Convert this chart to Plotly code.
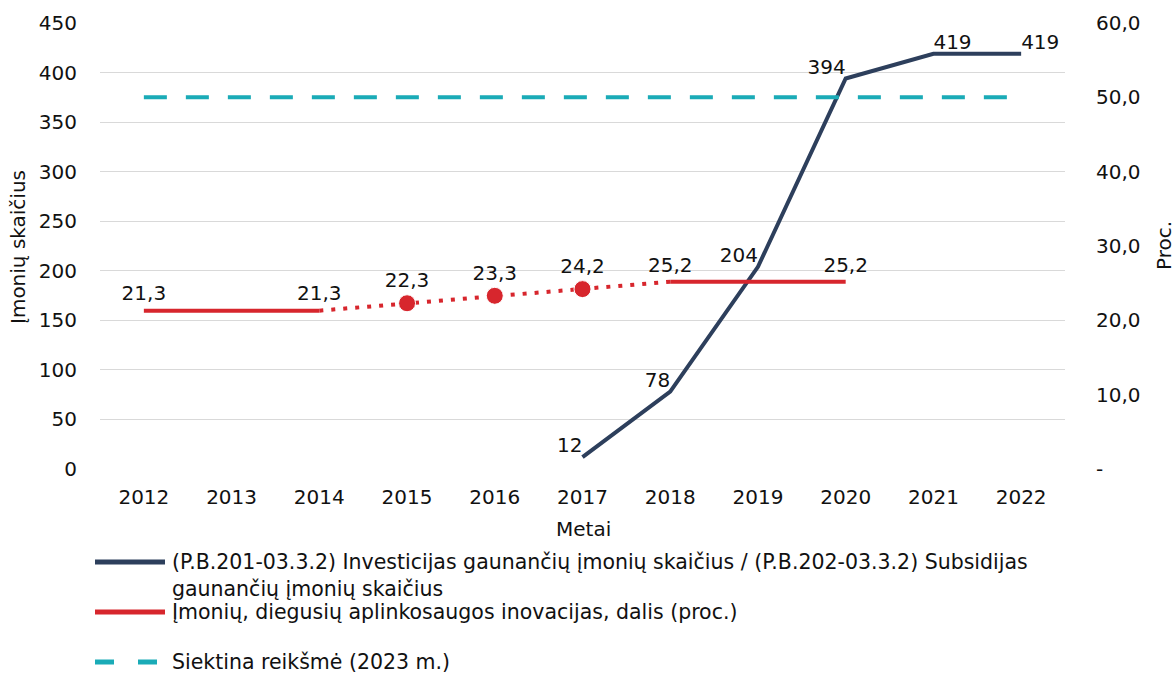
import plotly.graph_objects as go

# duomenys
metai = ["2012", "2013", "2014", "2015", "2016", "2017", "2018", "2019", "2020", "2021", "2022"]
imones = [None, None, None, None, None, 12, 78, 204, 394, 419, 419]
dalis_faktas_1 = [21.3, 21.3, 21.3, None, None, None, None, None, None, None, None]
dalis_tarp = [None, None, 21.3, 22.3, 23.3, 24.2, 25.2, None, None, None, None]
dalis_faktas_2 = [None, None, None, None, None, None, 25.2, 25.2, 25.2, None, None]
dalis_visos = [21.3, 21.3, 21.3, 22.3, 23.3, 24.2, 25.2, 25.2, 25.2, None, None]
dalis_rodyti = [True, False, True, True, True, True, True, False, True, False, False]
siektina = [50.0] * 11

imones_pozicijos = ["top left"] * 9 + ["top right", "top right"]

legendos_tekstai = [
    "(P.B.201-03.3.2) Investicijas gaunančių įmonių skaičius / (P.B.202-03.3.2) Subsidijas<br>gaunančių įmonių skaičius",
    "Įmonių, diegusių aplinkosaugos inovacijas, dalis (proc.)",
    "Siektina reikšmė (2023 m.)",
]

navy = "#2D3F5C"
raudona = "#D7262D"
zalsva = "#1AABB7"
FONT = "DejaVu Sans"

right_ticks = [0, 10, 20, 30, 40, 50, 60]
right_text = ["-" if v == 0 else f"{v:.1f}".replace(".", ",") for v in right_ticks]

L, R, T, B = 100, 1065, 23, 469   # braižymo sritis ekrane


def px(xp):
    return (xp - L) / (R - L)


def py(yp):
    return (B - yp) / (B - T)


fig = go.Figure()

fig.add_trace(go.Scatter(
    x=metai, y=imones, mode="lines+text", connectgaps=False,
    line=dict(color=navy, width=4),
    text=[("" if v is None else str(v)) for v in imones],
    textposition=imones_pozicijos,
    textfont=dict(size=20, color="#111111"),
    showlegend=False,
))

fig.add_trace(go.Scatter(
    x=metai, y=dalis_tarp, mode="lines+markers", yaxis="y2",
    line=dict(color=raudona, width=4, dash="4px,8px"),
    marker=dict(size=[0, 0, 0, 17, 17, 17, 0, 0, 0, 0, 0], color=raudona, opacity=1),
    showlegend=False, hoverinfo="skip",
))

for seg in (dalis_faktas_1, dalis_faktas_2):
    fig.add_trace(go.Scatter(
        x=metai, y=seg, mode="lines", yaxis="y2",
        line=dict(color=raudona, width=4), showlegend=False,
    ))

# etiketės raudonai linijai
fig.add_trace(go.Scatter(
    x=metai, y=dalis_visos, mode="markers+text", yaxis="y2",
    text=[f"{v:.1f}".replace(".", ",") if (v is not None and s) else "" for v, s in zip(dalis_visos, dalis_rodyti)],
    textposition="top center",
    marker=dict(size=[7, 7, 7, 16, 16, 16, 6, 6, 6, 6, 6], opacity=0),
    textfont=dict(size=20, color="#111111"), showlegend=False, hoverinfo="skip",
))

fig.add_trace(go.Scatter(
    x=metai, y=siektina, mode="lines", yaxis="y2",
    line=dict(color=zalsva, width=4, dash="23px,19px"),
    showlegend=False,
))

# legenda (rankinė, kad linijų pavyzdžiai būtų ilgi)
shapes = []
annotations = []
leg_y = [562, 612, 662]
leg_col = [navy, raudona, zalsva]
leg_dash = ["solid", "solid", "19px,24px"]
for txt, yy, col, dsh in zip(legendos_tekstai, leg_y, leg_col, leg_dash):
    shapes.append(dict(type="line", xref="paper", yref="paper",
                       x0=px(95), x1=px(165), y0=py(yy), y1=py(yy),
                       line=dict(color=col, width=5, dash=dsh)))
    annotations.append(dict(xref="paper", yref="paper", x=px(170), y=py(yy - 14),
                            xanchor="left", yanchor="top", align="left", showarrow=False,
                            text=txt, font=dict(size=20.5, color="#111111")))

# ašių pavadinimai
annotations += [
    dict(xref="paper", yref="paper", x=px(18), y=py(247), text="Įmonių skaičius",
         xanchor="center", yanchor="middle",
         textangle=-90, showarrow=False, font=dict(size=20)),
    dict(xref="paper", yref="paper", x=px(583), y=py(529), text="Metai",
         xanchor="center", yanchor="middle",
         showarrow=False, font=dict(size=20)),
    dict(xref="paper", yref="paper", x=px(1164), y=py(246), text="Proc.",
         xanchor="center", yanchor="middle",
         textangle=-90, showarrow=False, font=dict(size=20)),
]

fig.update_layout(
    width=1175, height=673,
    plot_bgcolor="white", paper_bgcolor="white",
    font=dict(family=FONT, size=20, color="#111111"),
    margin=dict(l=L, r=1175 - R, t=T, b=673 - B, autoexpand=False),
    xaxis=dict(
        type="category", range=[-0.5, 10.5], showgrid=False,
        ticks="outside", ticklen=10, tickcolor="white", tickangle=0,
        tickfont=dict(size=20),
    ),
    yaxis=dict(
        range=[0, 450], dtick=50, showgrid=True, gridcolor="#D9D9D9", gridwidth=1,
        zeroline=False, ticks="outside", ticklen=18, tickcolor="white",
        tickfont=dict(size=20),
    ),
    yaxis2=dict(
        overlaying="y", side="right", range=[0, 60],
        tickvals=right_ticks, ticktext=right_text, showgrid=False, zeroline=False,
        ticks="outside", ticklen=26, tickcolor="white",
        tickfont=dict(size=20),
    ),
    showlegend=False,
    shapes=shapes,
    annotations=annotations,
)

# be body paraštės, kad grafikas tilptų į langą
fig.write_html("out.html", config={"displayModeBar": False},
               post_script="document.body.style.margin='0';")
